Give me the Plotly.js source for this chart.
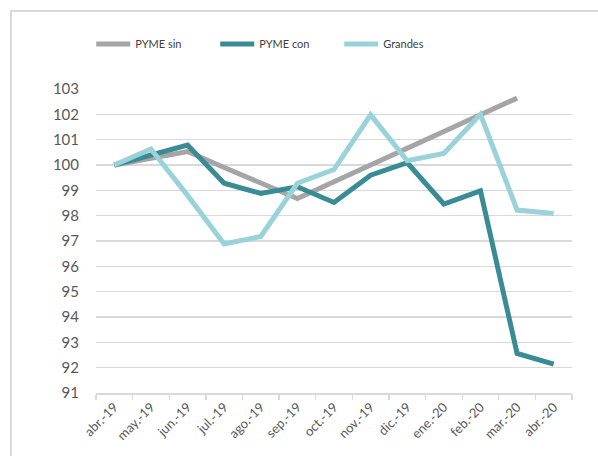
<!DOCTYPE html>
<html><head><meta charset="utf-8">
<script src="https://cdn.plot.ly/plotly-3.0.1.min.js"></script>
<style>
body{margin:0;padding:0;background:#fff;overflow:hidden;}
#frame{position:absolute;left:10px;top:10px;width:700px;height:600px;border:2px solid #d9d9d9;box-sizing:border-box;}
#chart{position:absolute;left:0;top:0;width:598px;height:456px;}
</style></head>
<body>
<div id="frame"></div>
<div id="chart"></div>
<script>
const months = ["abr.-19","may.-19","jun.-19","jul.-19","ago.-19","sep.-19","oct.-19","nov.-19","dic.-19","ene.-20","feb.-20","mar.-20","abr.-20"];
const pymeSin = [100, 100.27, 100.53, 99.9, 99.3, 98.68, 99.34, 100.0, 100.66, 101.32, 101.98, 102.64, null];
const pymeCon = [100, 100.4, 100.79, 99.28, 98.88, 99.14, 98.52, 99.6, 100.09, 98.46, 98.98, 92.56, 92.14];
const grandes = [100, 100.63, 98.8, 96.88, 97.18, 99.28, 99.82, 101.98, 100.17, 100.46, 102.0, 98.22, 98.09];

const mk = (name, y, color) => ({
  type: "scatter", mode: "lines", name: name, x: months, y: y,
  line: {color: color, width: 5, shape: "linear"}, connectgaps: false, hoverinfo: "skip"
});
const data = [
  mk("PYME sin", pymeSin, "#a5a5a5"),
  mk("PYME con", pymeCon, "#3a8c94"),
  mk("Grandes", grandes, "#99d3d9")
];
const layout = {
  width: 598, height: 456,
  margin: {l: 96, r: 26, t: 89, b: 63},
  paper_bgcolor: "rgba(0,0,0,0)", plot_bgcolor: "rgba(0,0,0,0)",
  font: {family: "Lato, 'Open Sans', sans-serif", color: "#595959"},
  showlegend: true,
  legend: {orientation: "h", x: -0.01, xanchor: "left", y: 1.148, yanchor: "middle",
    font: {size: 11, color: "#404040"}, itemwidth: 34, entrywidth: 75, entrywidthmode: "pixels",
    tracegroupgap: 0, bgcolor: "rgba(0,0,0,0)"},
  xaxis: {type: "category", tickangle: -45, tickfont: {size: 13, color: "#595959"},
    tickson: "boundaries", ticks: "outside", ticklen: 5, tickcolor: "#d9d9d9", tickwidth: 1.3,
    showline: true, linecolor: "#d9d9d9", linewidth: 1.5, showgrid: false, zeroline: false,
    range: [-0.5, 12.5], fixedrange: true},
  yaxis: {range: [91, 103], dtick: 1, tick0: 91, showgrid: true, gridcolor: "#d9d9d9", gridwidth: 1.3,
    zeroline: false, showline: false, ticks: "", tickfont: {size: 15, color: "#595959"},
    ticklabelstandoff: 16, fixedrange: true}
};
Plotly.newPlot("chart", data, layout, {staticPlot: true, displayModeBar: false});
</script>
</body></html>
